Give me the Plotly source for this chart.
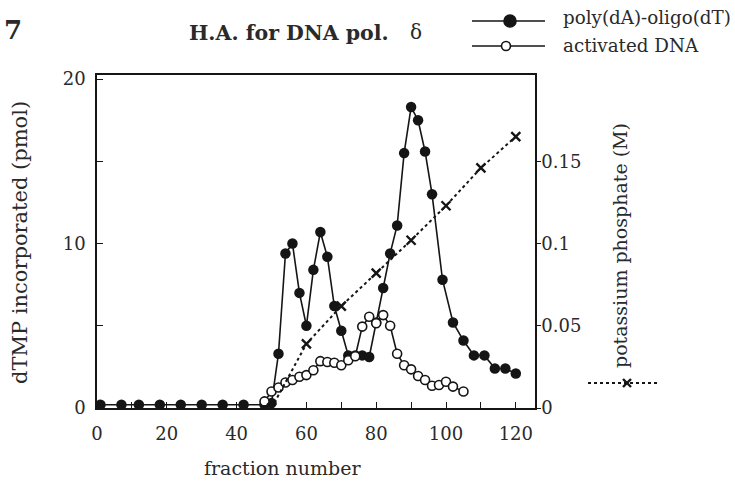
import plotly.graph_objects as go

# ---- data ----
filled_frac = [1, 7, 12, 18, 24, 30, 36, 42, 48, 50, 52, 54, 56, 58, 60, 62, 64, 66, 68, 70,
               72, 74, 76, 78, 80, 82, 84, 86, 88, 90, 92, 94, 96, 99, 102, 105, 108, 111,
               114, 117, 120]
filled_val = [0.2, 0.2, 0.2, 0.2, 0.2, 0.2, 0.2, 0.2, 0.2, 0.3, 3.3, 9.4, 10.0, 7.0, 5.0, 8.4,
              10.7, 9.2, 6.2, 4.7, 3.2, 3.2, 3.2, 3.1, 5.2, 7.3, 9.4, 11.1, 15.5, 18.3, 17.5,
              15.6, 13.0, 7.8, 5.2, 4.1, 3.2, 3.2, 2.4, 2.4, 2.1]

open_frac = [48, 50, 52, 54, 56, 58, 60, 62, 64, 66, 68, 70, 72, 74, 76, 78, 80, 82, 84, 86,
             88, 90, 92, 94, 96, 98, 100, 102, 105]
open_val = [0.4, 1.0, 1.25, 1.55, 1.7, 1.9, 2.0, 2.3, 2.85, 2.8, 2.75, 2.6, 2.9, 3.15, 4.95,
            5.55, 5.15, 5.65, 5.0, 3.3, 2.6, 2.35, 1.95, 1.7, 1.35, 1.4, 1.6, 1.3, 1.0]

kpi_frac = [50, 60, 70, 80, 90, 100, 110, 120]
kpi_val = [0.0, 0.039, 0.062, 0.082, 0.102, 0.123, 0.146, 0.165]

x_ticks = [0, 20, 40, 60, 80, 100, 120]
y_ticks = [0, 10, 20]
y2_ticks = [0, 0.05, 0.1, 0.15]
y2_ticktext = ["0", "0.05", "0.1", "0.15"]

# ---- layout geometry (pixels) ----
W, H = 735, 481
L, R, T, B = 97, 200, 75, 73
PW, PH = W - L - R, H - T - B

def px(x):
    return (x - L) / PW

def py(y):
    return (H - B - y) / PH

FONT = "DejaVu Serif"
TXT = "#2a2a2a"
LC = "#151515"

fig = go.Figure()
fig.add_trace(go.Scatter(x=filled_frac, y=filled_val, mode="lines+markers",
                         line=dict(color=LC, width=1.6),
                         marker=dict(symbol="circle", size=10.5, color=LC),
                         name="poly(dA)-oligo(dT)", showlegend=False))
fig.add_trace(go.Scatter(x=open_frac, y=open_val, mode="lines+markers",
                         line=dict(color=LC, width=1.6),
                         marker=dict(symbol="circle", size=9, color="white",
                                     line=dict(color=LC, width=1.6)),
                         name="activated DNA", showlegend=False))
fig.add_trace(go.Scatter(x=kpi_frac, y=kpi_val, mode="lines+markers", yaxis="y2",
                         line=dict(color=LC, width=2, dash="3px,3px"),
                         marker=dict(symbol="x-thin-open", size=9,
                                     line=dict(color=LC, width=2.4)),
                         name="potassium phosphate", showlegend=False))

tickfont = dict(family=FONT, size=18, color=TXT)
fig.update_layout(
    width=W, height=H,
    margin=dict(l=L, r=R, t=T, b=B, pad=0),
    paper_bgcolor="white", plot_bgcolor="white",
    showlegend=False,
    xaxis=dict(range=[0, 125.5], showline=True, linecolor=LC, linewidth=1.5, mirror=True,
               ticks="inside", ticklen=6, tickcolor=LC, tickwidth=1.3,
               tickvals=x_ticks, tickfont=tickfont, ticklabelstandoff=9,
               minor=dict(dtick=10, ticks="inside", ticklen=6, tickcolor=LC, tickwidth=1.3),
               showgrid=False, zeroline=False),
    yaxis=dict(range=[0, 20.25], showline=True, linecolor=LC, linewidth=1.5, mirror=True,
               ticks="inside", ticklen=6, tickcolor=LC, tickwidth=1.3,
               tickvals=y_ticks, tickfont=tickfont, ticklabelstandoff=6,
               minor=dict(dtick=5, ticks="inside", ticklen=6, tickcolor=LC, tickwidth=1.3),
               showgrid=False, zeroline=False),
    yaxis2=dict(range=[0, 0.2025], overlaying="y", side="right", showline=True,
                linecolor=LC, linewidth=1.5, ticks="outside", ticklen=4, tickcolor=LC,
                tickwidth=1.3, tickvals=y2_ticks, ticktext=y2_ticktext, tickfont=tickfont,
                ticklabelstandoff=-3, showgrid=False, zeroline=False),
)

def ann(text, x, y, size=18, xanchor="center", yanchor="middle", angle=0, bold=False):
    fig.add_annotation(text=("<b>%s</b>" % text) if bold else text,
                       x=px(x), y=py(y), xref="paper", yref="paper",
                       xanchor=xanchor, yanchor=yanchor, textangle=angle,
                       showarrow=False, font=dict(family=FONT, size=size, color=TXT))

ann("7", 13, 30, size=26, bold=True)
ann("H.A. for DNA pol.", 187, 33, size=20.5, xanchor="left", bold=True)
ann("δ", 416, 32, size=20)
ann("poly(dA)-oligo(dT)", 561, 18, size=18.3, xanchor="left")
ann("activated DNA", 561, 45, size=18.3, xanchor="left")
ann("fraction number", 282, 468, size=19)
ann("dTMP incorporated (pmol)", 20, 243, size=21, angle=-90)
ann("potassium phosphate (M)", 620, 246, size=19, angle=-90)

# legend glyphs
def hline(x0, x1, y, dash="solid", width=1.6):
    fig.add_shape(type="line", xref="paper", yref="paper", x0=px(x0), x1=px(x1),
                  y0=py(y), y1=py(y), line=dict(color=LC, width=width, dash=dash))

def circ(cx, cy, r, fill):
    fig.add_shape(type="circle", xref="paper", yref="paper",
                  x0=px(cx - r), x1=px(cx + r), y0=py(cy + r), y1=py(cy - r),
                  fillcolor=fill, line=dict(color=LC, width=1.6))

hline(472, 545, 21)
circ(510, 21, 6, LC)
hline(472, 545, 46)
circ(506, 46, 4.5, "white")
hline(588, 657, 383, dash="3px,3px", width=2)
for dx in (-4, 4):
    fig.add_shape(type="line", xref="paper", yref="paper",
                  x0=px(627 - 4), x1=px(627 + 4), y0=py(383 - dx), y1=py(383 + dx),
                  line=dict(color=LC, width=2.4))

fig.write_html("out.html")
